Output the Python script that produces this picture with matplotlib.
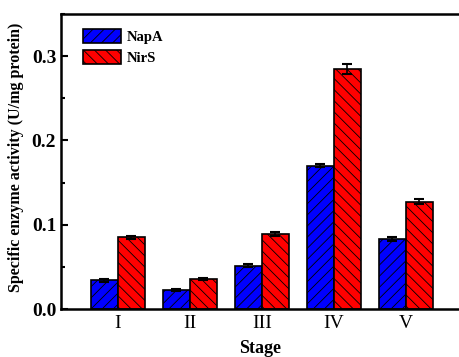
import matplotlib
matplotlib.use("Agg")
import matplotlib.pyplot as plt
import numpy as np
from matplotlib.ticker import MultipleLocator

stages = ["I", "II", "III", "IV", "V"]
napa = [0.034, 0.0225, 0.0515, 0.170, 0.083]
napa_err = [0.002, 0.0012, 0.0015, 0.002, 0.002]
nirs = [0.085, 0.036, 0.089, 0.285, 0.127]
nirs_err = [0.002, 0.0012, 0.002, 0.006, 0.003]

plt.rcParams['font.family'] = ['Liberation Serif', 'DejaVu Serif']
plt.rcParams['hatch.linewidth'] = 0.6

fig = plt.figure(figsize=(4.6, 3.57), dpi=100)
ax = fig.add_axes([61/460, (357-309)/357, 399/460, (309-14)/357])

x = np.arange(1, len(stages) + 1)
w = 0.375
ekw = dict(ecolor='black', elinewidth=1.2, capsize=3.5, capthick=1.5)
ax.bar(x - w/2, napa, w, yerr=napa_err, color='#0000ff', edgecolor='black',
       linewidth=1.2, hatch='///', label='NapA', error_kw=ekw)
ax.bar(x + w/2, nirs, w, yerr=nirs_err, color='#ff0000', edgecolor='black',
       linewidth=1.2, hatch='\\\\\\', label='NirS', error_kw=ekw)

ax.set_xlim(0.21, 5.75)
ax.set_ylim(0, 0.35)
ax.set_xticks(x)
ax.set_xticklabels(stages, fontsize=14)
ax.yaxis.set_major_locator(MultipleLocator(0.1))
ax.yaxis.set_minor_locator(MultipleLocator(0.05))
ax.yaxis.set_major_formatter(matplotlib.ticker.FormatStrFormatter('%.1f'))
for lab in ax.get_yticklabels():
    lab.set_fontweight('bold')
    lab.set_fontsize(14)
ax.tick_params(axis='y', which='major', direction='in', length=5, width=1.5)
ax.tick_params(axis='y', which='minor', direction='in', length=3, width=1.5)
ax.tick_params(axis='x', which='major', length=0, pad=4)
for s in ax.spines.values():
    s.set_linewidth(1.8)
ax.spines['right'].set_visible(False)

ax.set_ylabel('Specific enzyme activity (U/mg protein)', fontsize=11.5, fontweight='bold')
ax.yaxis.set_label_coords(-0.093, 0.515)
ax.set_xlabel('Stage', fontsize=13, fontweight='bold', labelpad=6)

leg = ax.legend(loc='upper left', bbox_to_anchor=(0.04, 0.97), frameon=False,
                prop={'weight': 'bold', 'size': 10.5}, handlelength=2.6,
                handleheight=1.1, handletextpad=0.4, labelspacing=0.45, borderaxespad=0)

fig.savefig('out.png', dpi=100)
